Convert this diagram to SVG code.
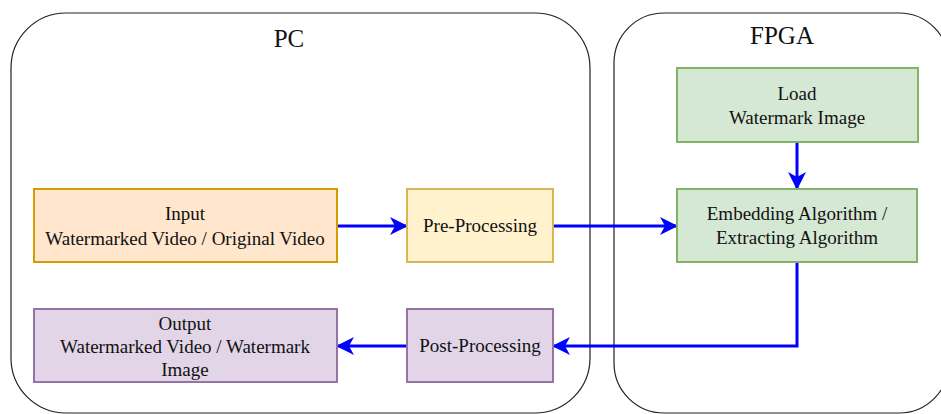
<svg xmlns="http://www.w3.org/2000/svg" width="941" height="414" viewBox="0 0 941 414">
<defs>
<style>
.container{fill:#ffffff;stroke:#222222;stroke-width:1.2}
.t{font-family:"Liberation Serif","Times New Roman",serif;fill:#111111;text-anchor:middle}
.lbl{font-size:19px}
.title{font-size:25px}
.orange{fill:#ffe6cc;stroke:#d79b00;stroke-width:2}
.yellow{fill:#fff2cc;stroke:#d6b656;stroke-width:2}
.green{fill:#d5e8d4;stroke:#82b366;stroke-width:2}
.purple{fill:#e1d5e7;stroke:#9673a6;stroke-width:2}
.edge{fill:none;stroke:#0000ff;stroke-width:3;marker-end:url(#arrow)}
</style>
<marker id="arrow" markerUnits="userSpaceOnUse" viewBox="0 0 18 18" refX="17" refY="9" markerWidth="18" markerHeight="18" orient="auto">
<path d="M0,0 L18,9 L0,18 L5,9 Z" fill="#0000ff"/>
</marker>
</defs>
<rect width="941" height="414" fill="#ffffff"/>
<g id="pc">
<rect class="container" x="11" y="13" width="579" height="400" rx="55" ry="55"/>
<text class="t title" x="289" y="47">PC</text>
</g>
<g id="fpga">
<rect class="container" x="614" y="13" width="335" height="400" rx="50" ry="50"/>
<text class="t title" x="782" y="44">FPGA</text>
</g>
<g id="connectors">
<path class="edge" d="M337,226 L407,226"/>
<path class="edge" d="M553,226 L677,226"/>
<path class="edge" d="M797,142 L797,189"/>
<path class="edge" d="M797,262 L797,346 L553,346"/>
<path class="edge" d="M407,346 L337,346"/>
</g>
<g id="input">
<rect class="orange" x="34" y="189" width="303" height="73"/>
<text class="t lbl" x="185" y="220">Input</text>
<text class="t lbl" x="185" y="245">Watermarked Video / Original Video</text>
</g>
<g id="preprocessing">
<rect class="yellow" x="407" y="189" width="146" height="73"/>
<text class="t lbl" x="480" y="232">Pre-Processing</text>
</g>
<g id="load">
<rect class="green" x="677" y="68" width="241" height="74"/>
<text class="t lbl" x="797" y="100">Load</text>
<text class="t lbl" x="797" y="124">Watermark Image</text>
</g>
<g id="embedding">
<rect class="green" x="677" y="189" width="240" height="73"/>
<text class="t lbl" x="797" y="220">Embedding Algorithm /</text>
<text class="t lbl" x="797" y="244">Extracting Algorithm</text>
</g>
<g id="postprocessing">
<rect class="purple" x="407" y="309" width="146" height="73"/>
<text class="t lbl" x="480" y="352">Post-Processing</text>
</g>
<g id="output">
<rect class="purple" x="34" y="309" width="303" height="73"/>
<text class="t lbl" x="185" y="330">Output</text>
<text class="t lbl" x="185" y="353">Watermarked Video / Watermark</text>
<text class="t lbl" x="185" y="376">Image</text>
</g>
</svg>
